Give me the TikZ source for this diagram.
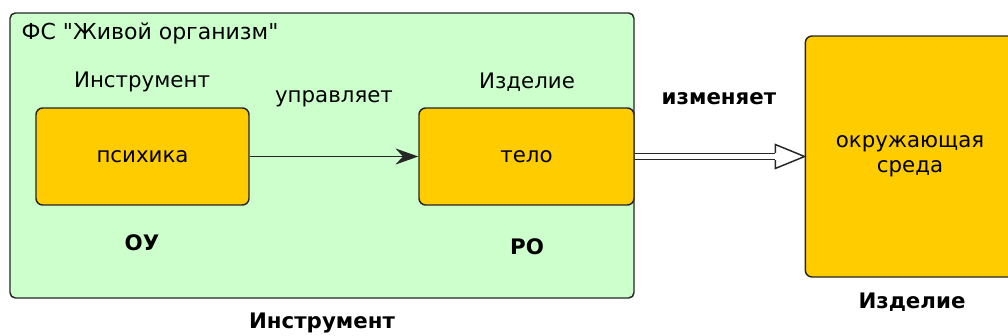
\documentclass[tikz,border=0pt]{standalone}
\usepackage{fontspec}
\setmainfont{DejaVu Sans}[Ligatures=TeXOff]
\usetikzlibrary{arrows.meta}

\definecolor{fsgreen}{HTML}{CCFFCC}
\definecolor{partyellow}{HTML}{FFCC00}
\definecolor{edgegray}{HTML}{262626}

\begin{document}
\begin{tikzpicture}[
    x=0.75pt, y=-0.75pt,
    every node/.style={font=\fontsize{16}{19}\selectfont},
    frame/.style={draw=edgegray, line width=1.1pt, fill=fsgreen, rounded corners=4pt},
    part/.style={draw=edgegray, line width=1.1pt, fill=partyellow, rounded corners=5pt, align=center},
    role/.style={font=\fontsize{16}{19}\bfseries\selectfont},
    acts/.style={draw=edgegray, line width=1.4pt, -{Stealth[length=17pt, width=12pt]}},
    changes/.style={draw=edgegray, line width=1.1pt, double=white, double distance=3.2pt}
]
\path[use as bounding box, clip] (0,0) rectangle (1008,336);

\draw[frame] (10,13) rectangle (634,298);
\node[anchor=west, font=\fontsize{16.5}{19}\selectfont] (title) at (17,33) {ФС "Живой организм"};

\node[part, minimum width=159.75pt, minimum height=72.75pt] (psych) at (142.5,156.5) {психика};
\node[part, minimum width=161.25pt, minimum height=72.75pt] (body) at (526.5,156.5) {тело};
\node[part, minimum width=157pt, minimum height=180.75pt] (env) at (910,156.5) {окружающая\\среда};

\node (tool) at (142,82) {Инструмент};
\node (item) at (527,82) {Изделие};
\node (ctrl) at (334,99) {управляет};

\node[role] (ou) at (142,243) {ОУ};
\node[role] (ro) at (527,247) {РО};
\node[role] (fstool) at (322,323) {Инструмент};
\node[role] (mod) at (719,99) {изменяет};
\node[role] (envitem) at (912,302) {Изделие};

\draw[acts] (psych) -- (body);

% hollow double arrow
\coordinate (headbase) at ([xshift=-22pt]env.west);
\draw[changes] (body.east) -- (headbase);
\draw[draw=edgegray, line width=1.1pt, fill=white, line join=miter]
  ([yshift=2.7pt]headbase) -- ([yshift=9pt]headbase) -- (env.west)
  -- ([yshift=-9pt]headbase) -- ([yshift=-2.7pt]headbase);

\end{tikzpicture}
\end{document}
